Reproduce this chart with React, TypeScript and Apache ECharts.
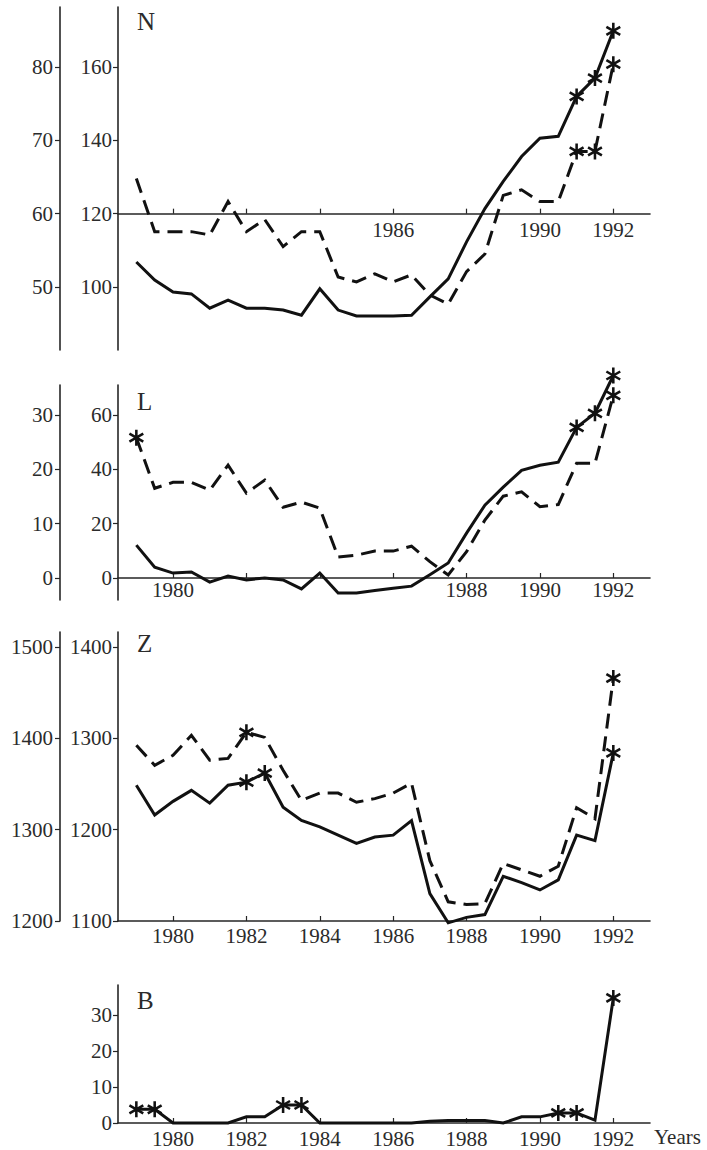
import React, { useEffect, useRef } from 'react';
import * as echarts from 'echarts';

// ---------- data ----------
const YEARS = [
  1979, 1979.5, 1980, 1980.5, 1981, 1981.5, 1982, 1982.5, 1983, 1983.5,
  1984, 1984.5, 1985, 1985.5, 1986, 1986.5, 1987, 1987.5, 1988, 1988.5,
  1989, 1989.5, 1990, 1990.5, 1991, 1991.5, 1992,
];
const TICK_YEARS = [1980, 1982, 1984, 1986, 1988, 1990, 1992];

const N_SOLID = [106.8, 101.9, 98.6, 98.1, 94.2, 96.4, 94.2, 94.2, 93.7, 92.3, 99.5, 93.7, 92.1, 92.1, 92.1, 92.3, 97.3, 102.2, 112.3, 121.4, 128.8, 135.6, 140.6, 141.1, 152, 157, 169.9];
const N_DASHED = [129.6, 115.1, 115.1, 115.1, 114.2, 123.3, 115.1, 118.4, 111, 115.1, 115.1, 102.7, 101.4, 103.6, 101.4, 103.3, 97.8, 95.3, 104.2, 109, 125, 126.5, 123.3, 123.3, 137, 137, 160.8];
const N_SOLID_STARS = [24, 25, 26];
const N_DASHED_STARS = [24, 25, 26];

const L_SOLID = [12.1, 4.0, 1.8, 2.2, -1.5, 0.7, -0.7, 0, -0.7, -4, 1.8, -5.5, -5.5, -4.6, -3.8, -3.0, 1.2, 5.5, 16.5, 26.8, 33.4, 39.6, 41.5, 42.6, 55.4, 60.6, 74.5];
const L_DASHED = [51.6, 33, 35.2, 35.2, 32.3, 41.5, 31.2, 36, 26, 27.9, 25.7, 7.7, 8.4, 9.9, 9.9, 11.7, 6, 1.1, 9.7, 21.3, 30.1, 31.7, 26.2, 27, 42.2, 42.2, 67.2];
const L_SOLID_STARS = [24, 25, 26];
const L_DASHED_STARS = [0, 26];

const Z_SOLID = [1248.6, 1216, 1231, 1243, 1229, 1248.6, 1252, 1262, 1224.6, 1210, 1203, 1194, 1185, 1192, 1194, 1210, 1130, 1098, 1104, 1107, 1149, 1142, 1134, 1145, 1194, 1188, 1284];
const Z_DASHED = [1292.3, 1270.5, 1281.4, 1303.3, 1276, 1278, 1306.6, 1301, 1265, 1232, 1240, 1240, 1230, 1234, 1240, 1251, 1166, 1121, 1118, 1119, 1163, 1156, 1149, 1160, 1224, 1212, 1366];
const Z_SOLID_STARS = [6, 7, 26];
const Z_DASHED_STARS = [6, 26];

const B_SOLID = [3.8, 3.8, 0, 0, 0, 0, 1.7, 1.7, 5, 5, 0, 0, 0, 0, 0, 0, 0.5, 0.7, 0.7, 0.7, 0, 1.7, 1.7, 2.8, 2.8, 0.8, 34.7];
const B_STARS = [0, 1, 8, 9, 23, 24, 26];

const N_TICKS = [100, 120, 140, 160];
const N_OUTER_TICKS = [50, 60, 70, 80];
const L_TICKS = [0, 20, 40, 60];
const L_OUTER_TICKS = [0, 10, 20, 30];
const Z_TICKS = [1100, 1200, 1300, 1400];
const Z_OUTER_TICKS = [1200, 1300, 1400, 1500];
const B_TICKS = [0, 10, 20, 30];

// ---------- style / layout ----------
const FONT = 'Liberation Serif, serif';
const TEXT_COLOR = '#2b2b2b';
const AXIS_COLOR = '#262626';
const LINE_COLOR = '#111';
const X_MIN = 1978.5;
const X_MAX = 1993;
const GRID_LEFT = 118;
const GRID_WIDTH = 532;

function starPath(): string {
  const L = 10;
  const w = 1.6;
  const parts = [90, 30, 150].map((deg) => {
    const t = (deg * Math.PI) / 180;
    const dx = Math.cos(t), dy = Math.sin(t);
    const nx = -dy, ny = dx;
    const pts = [
      [L * dx + w * nx, L * dy + w * ny],
      [L * dx - w * nx, L * dy - w * ny],
      [-L * dx - w * nx, -L * dy - w * ny],
      [-L * dx + w * nx, -L * dy + w * ny],
    ];
    return 'M' + pts.map((p) => p[0].toFixed(3) + ' ' + p[1].toFixed(3)).join(' L') + ' Z';
  });
  return 'path://' + parts.join(' ');
}
const STAR = starPath();

type Panel = {
  letter: string;
  top: number;
  height: number;
  min: number;
  max: number;
  ticks: number[];
  outer?: { ticks: number[]; scale: number; shift: number };
  base: number;
  labelYears: number[];
  labelMargin: number;
  letterY: number;
  solid: number[];
  dashed?: number[];
  solidStars: number[];
  dashedStars?: number[];
  name?: string;
};

const PANELS: Panel[] = [
  {
    letter: 'N', top: 7, height: 343, min: 82.8, max: 176.4, ticks: N_TICKS,
    outer: { ticks: N_OUTER_TICKS, scale: 0.5, shift: 0 }, base: 120,
    labelYears: [1986, 1990, 1992], labelMargin: 6, letterY: 9,
    solid: N_SOLID, dashed: N_DASHED, solidStars: N_SOLID_STARS, dashedStars: N_DASHED_STARS,
  },
  {
    letter: 'L', top: 385, height: 215, min: -8.1, max: 71.0, ticks: L_TICKS,
    outer: { ticks: L_OUTER_TICKS, scale: 0.5, shift: 0 }, base: 0,
    labelYears: [1980, 1988, 1990, 1992], labelMargin: 2, letterY: 389,
    solid: L_SOLID, dashed: L_DASHED, solidStars: L_SOLID_STARS, dashedStars: L_DASHED_STARS,
  },
  {
    letter: 'Z', top: 632, height: 289, min: 1100, max: 1416.4, ticks: Z_TICKS,
    outer: { ticks: Z_OUTER_TICKS, scale: 1, shift: 100 }, base: 1100,
    labelYears: TICK_YEARS, labelMargin: 4, letterY: 631,
    solid: Z_SOLID, dashed: Z_DASHED, solidStars: Z_SOLID_STARS, dashedStars: Z_DASHED_STARS,
  },
  {
    letter: 'B', top: 985, height: 138, min: 0, max: 38.3, ticks: B_TICKS,
    base: 0, labelYears: TICK_YEARS, labelMargin: 5, letterY: 988,
    solid: B_SOLID, solidStars: B_STARS, name: 'Years',
  },
];

const fmt = (v: number) => String(v);

function buildOption() {
  const grid: any[] = [];
  const xAxis: any[] = [];
  const yAxis: any[] = [];
  const series: any[] = [];
  const graphic: any[] = [];

  const textStyle = { fontFamily: FONT, fontSize: 21, color: TEXT_COLOR };
  const axisLine = { show: true, onZero: false, lineStyle: { color: AXIS_COLOR, width: 1.6 } };

  PANELS.forEach((p, g) => {
    grid.push({ left: GRID_LEFT, top: p.top, width: GRID_WIDTH, height: p.height });
    const offset = -((p.base - p.min) / (p.max - p.min)) * p.height;
    xAxis.push({
      type: 'value', gridIndex: g, min: X_MIN, max: X_MAX, position: 'bottom',
      offset,
      axisLine,
      axisTick: { show: true, inside: true, length: 5, customValues: TICK_YEARS, lineStyle: { color: AXIS_COLOR, width: 1.2 } },
      axisLabel: { ...textStyle, customValues: p.labelYears, margin: p.labelMargin, formatter: fmt },
      splitLine: { show: false },
      name: p.name,
      nameLocation: 'end',
      nameGap: 4,
      nameTextStyle: { ...textStyle, align: 'left', verticalAlign: 'top', padding: [3, 0, 0, 0] },
    });
    const innerIndex = yAxis.length;
    yAxis.push({
      type: 'value', gridIndex: g, min: p.min, max: p.max, position: 'left',
      axisLine,
      axisTick: { show: true, length: 5, customValues: p.ticks, lineStyle: { color: AXIS_COLOR, width: 1.2 } },
      axisLabel: { ...textStyle, customValues: p.ticks, margin: 6, formatter: fmt },
      splitLine: { show: false },
    });
    if (p.outer) {
      const o = p.outer;
      yAxis.push({
        type: 'value', gridIndex: g, min: p.min * o.scale + o.shift, max: p.max * o.scale + o.shift,
        position: 'left', offset: 58,
        axisLine,
        axisTick: { show: true, length: 5, customValues: o.ticks, lineStyle: { color: AXIS_COLOR, width: 1.2 } },
        axisLabel: { ...textStyle, customValues: o.ticks, margin: 7, formatter: fmt },
        splitLine: { show: false },
      });
    }

    const addLine = (vals: number[], dashed: boolean, stars: number[]) => {
      series.push({
        type: 'line', xAxisIndex: g, yAxisIndex: innerIndex,
        data: YEARS.map((x, i) => [x, vals[i]]),
        symbol: 'none', clip: false, silent: true,
        lineStyle: { color: LINE_COLOR, width: 3, type: dashed ? [15, 8] : 'solid', cap: 'butt', join: 'miter' },
      });
      series.push({
        type: 'scatter', xAxisIndex: g, yAxisIndex: innerIndex,
        data: stars.map((i) => [YEARS[i], vals[i]]),
        symbol: STAR, symbolSize: 16, symbolKeepAspect: true, clip: false, silent: true,
        itemStyle: { color: LINE_COLOR, opacity: 1 },
      });
    };
    addLine(p.solid, false, p.solidStars);
    if (p.dashed) addLine(p.dashed, true, p.dashedStars || []);

    graphic.push({
      type: 'text', x: 137, y: p.letterY,
      style: { text: p.letter, fontFamily: FONT, fontSize: 25, fill: TEXT_COLOR, verticalAlign: 'top', align: 'left' },
    });
  });

  return {
    animation: false,
    backgroundColor: '#ffffff',
    grid,
    xAxis,
    yAxis,
    series,
    graphic,
  };
}

export default function App() {
  const ref = useRef<HTMLDivElement>(null);
  useEffect(() => {
    if (!ref.current) return;
    const chart = echarts.init(ref.current, null, { renderer: 'svg' });
    chart.setOption(buildOption() as any);
    return () => chart.dispose();
  }, []);
  return (
    <div
      ref={ref}
      style={{ position: 'absolute', left: 0, top: 0, width: 707, height: 1150, background: '#fff' }}
    />
  );
}
